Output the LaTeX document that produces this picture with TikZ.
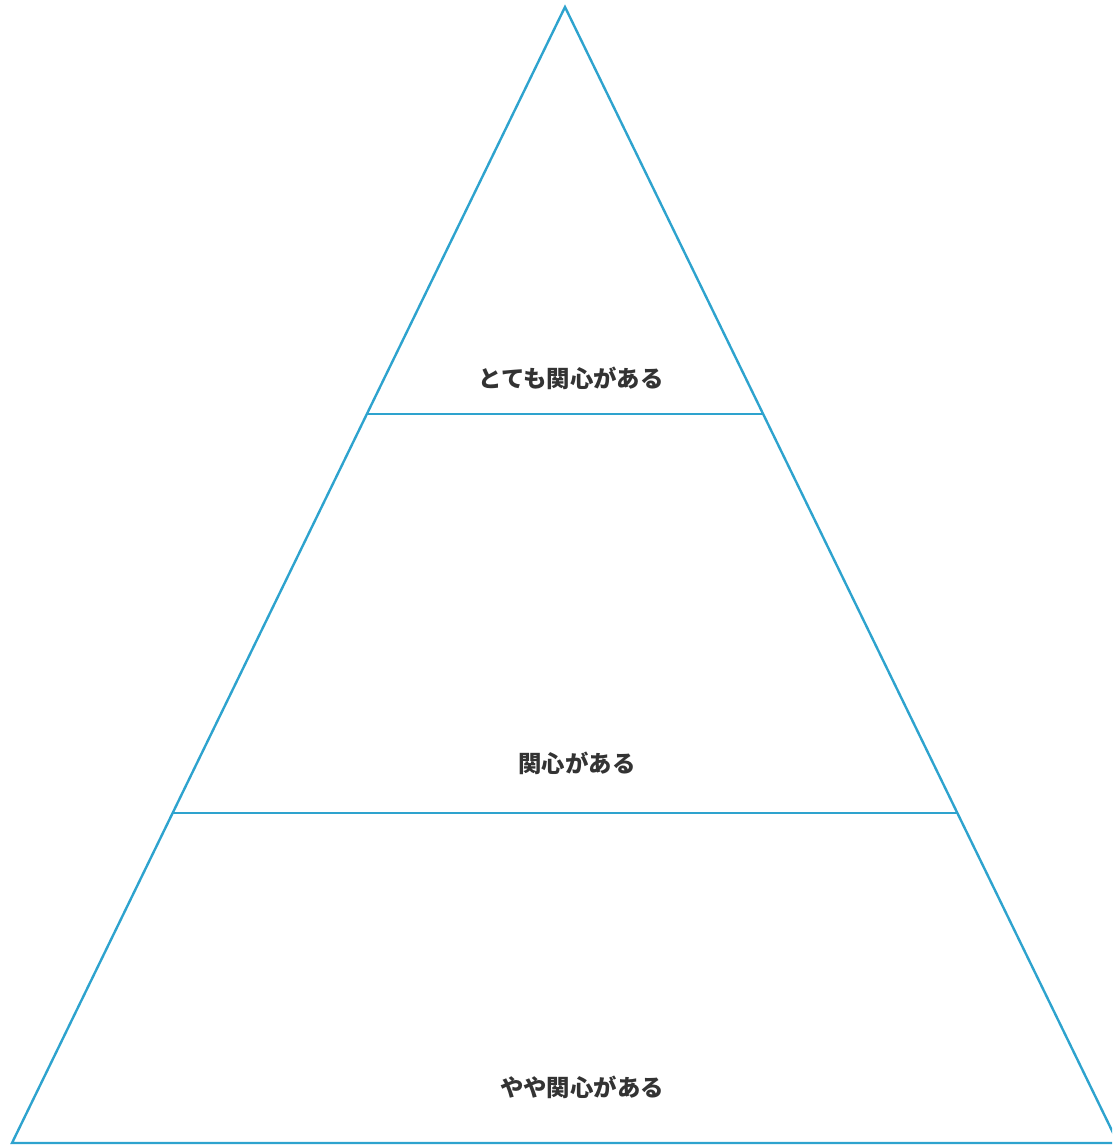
\documentclass[tikz,border=0pt]{standalone}
\usepackage{fontspec}
\newfontfamily\jpfont{Noto Sans CJK JP}
\definecolor{pyramidblue}{RGB}{46,163,206}
\definecolor{labelgray}{RGB}{51,51,51}
\tikzset{
  level/.style={font=\jpfont\bfseries\fontsize{23.4}{27}\selectfont,text=labelgray,inner sep=0pt},
  edge/.style={draw=pyramidblue,line width=2.4pt,line join=miter}
}
\begin{document}
\begin{tikzpicture}[x=1pt,y=-1pt]
	\clip (0,0) rectangle (1112,1146);
	\useasboundingbox (0,0) rectangle (1112,1146);
	\coordinate (apex) at (565,7);
	\coordinate (bl) at (12,1143);
	\coordinate (br) at (1118,1143);
	\draw[edge] (bl)--(apex)--(br)--cycle;
	% tiers
	\draw[edge] (367.5,414)--(762.5,414);
	\draw[edge] (172.5,813)--(957.5,813);
	\node[level] (top) at (571,378) {とても関心がある};
	\node[level] (mid) at (577,763) {関心がある};
	\node[level] (low) at (582,1087) {やや関心がある};
\end{tikzpicture}
\end{document}
